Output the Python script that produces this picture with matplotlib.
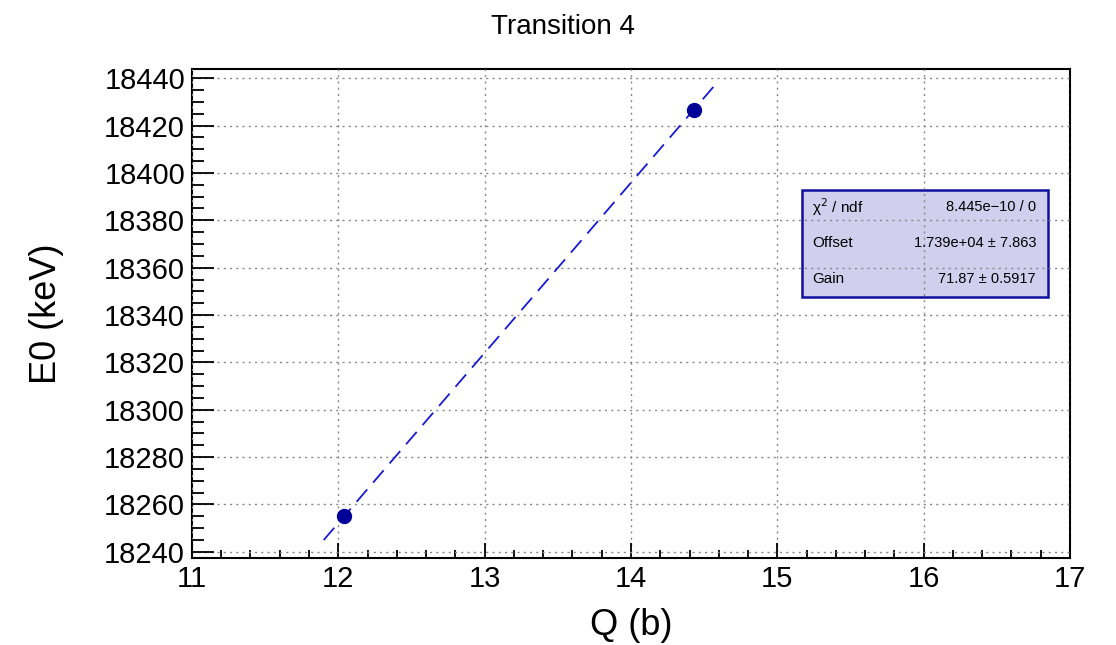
import numpy as np
import matplotlib.pyplot as plt
from matplotlib.patches import Rectangle
from matplotlib.ticker import MultipleLocator

plt.rcParams['font.family'] = ['Liberation Sans', 'DejaVu Sans']

# data
q_vals = [12.04, 14.43]
e0_vals = [18255.0, 18426.8]

# fit results shown in the stats box
offset = 17389.7
gain = 71.87
fit_range = [11.9, 14.6]
stat_names = ['\u03c7$^{2}$ / ndf', 'Offset', 'Gain']
stat_values = ['8.445e\u221210 / 0', '1.739e+04 \u00b1 7.863', '71.87 \u00b1 0.5917']

fig = plt.figure(figsize=(11.16, 6.45), dpi=100)
ax = fig.add_axes([0.172, 0.1353, 0.7868, 0.7577])

xf = np.linspace(fit_range[0], fit_range[1], 50)
ax.plot(xf, offset + gain * xf, color='#1a1acc', lw=1.3, dashes=(9, 5), zorder=4)
ax.plot(q_vals, e0_vals, 'o', color='#000099', ms=10, zorder=5)

ax.set_xlim(11, 17)
ax.set_ylim(18237.5, 18443.9)
ax.xaxis.set_major_locator(MultipleLocator(1))
ax.xaxis.set_minor_locator(MultipleLocator(0.2))
ax.yaxis.set_major_locator(MultipleLocator(20))
ax.yaxis.set_minor_locator(MultipleLocator(5))

ax.tick_params(axis='both', which='both', direction='in', top=False, right=False, width=1.3)
ax.tick_params(axis='y', which='major', length=16, labelsize=21, pad=5)
ax.tick_params(axis='y', which='minor', length=8.5)
ax.tick_params(axis='x', which='major', length=11, labelsize=21, pad=5)
ax.tick_params(axis='x', which='minor', length=5.5)
for s in ax.spines.values():
    s.set_linewidth(1.5)

ax.set_axisbelow(False)
ax.grid(True, which='major', color='#888888', ls=(0, (1.5, 3)), lw=1)

ax.set_xlabel('Q (b)', fontsize=26, labelpad=11)
ax.set_ylabel('E0 (keV)', fontsize=26, labelpad=29)
fig.text(0.5045, 0.958, 'Transition 4', fontsize=20, ha='center', va='center')

# stats box (drawn under the grid, like ROOT's translucent pave)
box = Rectangle((802 / 1116, 1 - 297 / 645), 246 / 1116, 107 / 645, transform=fig.transFigure,
                facecolor='#d0d0ee', edgecolor='#1010a0', lw=1.8, zorder=1)
ax.add_patch(box)
rows_y = [206.7, 243.3, 279.3]
for name, val, yy in zip(stat_names, stat_values, rows_y):
    fig.text(812 / 1116, 1 - yy / 645, name, fontsize=11, ha='left', va='center', zorder=6)
    fig.text(1036 / 1116, 1 - yy / 645, val, fontsize=10.5, ha='right', va='center', zorder=6)

fig.savefig('out.png', dpi=100)
